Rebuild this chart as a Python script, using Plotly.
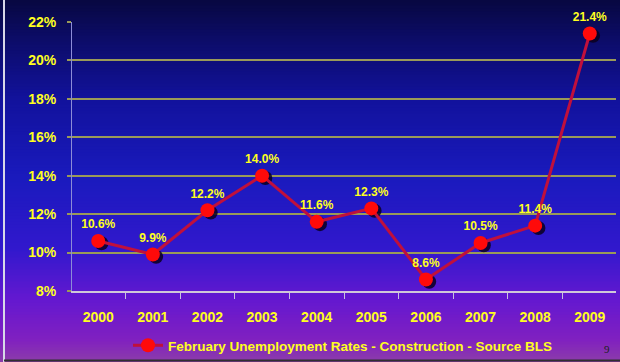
import plotly.graph_objects as go

years = ["2000", "2001", "2002", "2003", "2004", "2005", "2006", "2007", "2008", "2009"]
rates = [10.6, 9.9, 12.2, 14.0, 11.6, 12.3, 8.6, 10.5, 11.4, 21.4]
y_ticks = [8, 10, 12, 14, 16, 18, 20, 22]
series_name = "February Unemployment Rates - Construction - Source BLS"

W, H = 620, 362
ML, MR, MT, MB = 72, 4, 22, 71
PW, PH = W - ML - MR, H - MT - MB

def px_x(px):
    return (px - ML) / PW

def px_y(py):
    return (H - MB - py) / PH

def lerp(c1, c2, t):
    return tuple(round(a + (b - a) * t) for a, b in zip(c1, c2))

stops = [(0, (8, 8, 64)), (40, (12, 12, 104)), (100, (18, 18, 156)),
         (180, (26, 26, 190)), (250, (50, 24, 205)), (300, (100, 24, 208)),
         (340, (128, 32, 192)), (362, (140, 60, 170))]

def grad(py):
    for (y0, c0), (y1, c1) in zip(stops, stops[1:]):
        if y0 <= py <= y1:
            return lerp(c0, c1, (py - y0) / (y1 - y0))
    return stops[-1][1]

shapes = []
band = 3
for py in range(0, H, band):
    c = grad(py + band / 2)
    shapes.append(dict(type="rect", xref="paper", yref="paper",
                       x0=px_x(-2), x1=px_x(W + 2), y0=px_y(py + band + 0.5), y1=px_y(py - 0.5),
                       fillcolor="rgb(%d,%d,%d)" % c, line=dict(width=0), layer="below"))
# frame lines
shapes.append(dict(type="line", xref="paper", yref="paper", x0=px_x(4), x1=px_x(4),
                   y0=px_y(0), y1=px_y(H), line=dict(color="#d8d8e8", width=2)))
shapes.append(dict(type="line", xref="paper", yref="paper", x0=px_x(4), x1=px_x(W),
                   y0=px_y(360.5), y1=px_y(360.5), line=dict(color="#303030", width=2)))

xs = list(range(len(years)))

fig = go.Figure()
# marker shadow
fig.add_trace(go.Scatter(
    x=[x + 0.06 for x in xs], y=[r - 0.12 for r in rates], mode="markers",
    marker=dict(size=14, color="rgba(10,0,30,0.85)"), showlegend=False, hoverinfo="skip"))
fig.add_trace(go.Scatter(
    x=xs, y=rates, mode="lines+markers+text", name="<b>" + series_name + "</b>",
    line=dict(color="#c0103c", width=3),
    marker=dict(size=14, color="#ff0a0a"),
    text=["<b>%.1f%%</b>" % r for r in rates], textposition="top center",
    textfont=dict(family="Arial, Liberation Sans", size=12, color="#ffff20"),
    cliponaxis=False))

fig.update_layout(
    width=W, height=H, margin=dict(l=ML, r=MR, t=MT, b=MB, autoexpand=False),
    paper_bgcolor="rgb(60,30,150)", plot_bgcolor="rgba(0,0,0,0)",
    shapes=shapes,
    font=dict(family="Arial, Liberation Sans", color="#ffff20"),
    showlegend=True,
    legend=dict(orientation="h", x=px_x(128), xanchor="left",
                yref="container", y=1 - 345.5 / H, yanchor="middle",
                bgcolor="rgba(0,0,0,0)", font=dict(size=13.5, color="#ffff20",
                family="Arial, Liberation Sans"), itemwidth=30),
    xaxis=dict(range=[-0.48, 9.48], tickmode="array", tickvals=xs,
               ticktext=["<b>%s</b>" % y for y in years],
               tickfont=dict(size=14, color="#ffff20"), ticks="", showgrid=False,
               zeroline=False, showline=True, linecolor="#d0c8d8", linewidth=2,
               ticklabelstandoff=12,
               minor=dict(tick0=-0.5, dtick=1, ticks="outside", ticklen=6,
                          tickcolor="#c8c0e0", tickwidth=1, showgrid=False)),
    yaxis=dict(range=[8, 22], tickvals=y_ticks,
               ticktext=["<b>%d%%</b>" % v for v in y_ticks],
               tickfont=dict(size=14, color="#ffff20"),
               showgrid=True, gridcolor="#9a9a58", gridwidth=2,
               ticks="outside", ticklen=4, tickcolor="#9a9a58", tickwidth=2,
               zeroline=False, showline=True, linecolor="#8c8cd8", linewidth=1,
               ticklabelstandoff=8),
    annotations=[dict(x=px_x(612), y=px_y(357), xref="paper", yref="paper", text="9",
                      showarrow=False, yanchor="bottom",
                      font=dict(family="Times New Roman, Liberation Serif",
                                size=11, color="#202020"))],
)

fig.write_html("out.html")
